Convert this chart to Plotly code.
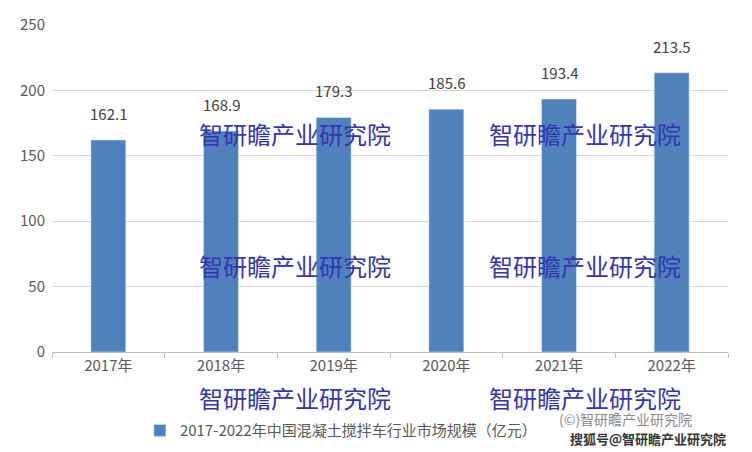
import plotly.graph_objects as go

years = ["2017年", "2018年", "2019年", "2020年", "2021年", "2022年"]
values = [162.1, 168.9, 179.3, 185.6, 193.4, 213.5]
series_name = "2017-2022年中国混凝土搅拌车行业市场规模（亿元）"
y_ticks = [0, 50, 100, 150, 200, 250]

font = "Noto Sans CJK SC"
OFF = 8  # page body margin
L, R, T, B = 44, 24, 17, 100
W, H = 744, 444
pw, ph = W - L - R, H - T - B

fig = go.Figure(go.Bar(x=years, y=values, name=series_name, marker_color="#4f81bd", width=0.31))
for x, v in zip(years, values):
    fig.add_annotation(x=x, y=v, text=f"{v:.1f}", showarrow=False, yanchor="bottom", yshift=14,
                       font=dict(size=15, color="#404040", family=font))

fig.update_layout(
    width=W, height=H, paper_bgcolor="white", plot_bgcolor="white",
    margin=dict(l=L, r=R, t=T, b=B, autoexpand=False),
    font=dict(family=font, color="#595959"),
    showlegend=True,
    legend=dict(orientation="h", x=0.13, xanchor="left", y=-0.19, yanchor="top",
                font=dict(size=15, color="#595959", family=font)),
    xaxis=dict(showline=True, linecolor="#bfbfbf", ticks="outside", tickcolor="#bfbfbf",
               ticklen=5, tickson="boundaries", tickfont=dict(size=15, color="#595959")),
    yaxis=dict(range=[0, 250], tickvals=y_ticks, gridcolor="#d9d9d9", zeroline=False,
               ticklabelstandoff=6, tickfont=dict(size=15, color="#595959")),
)

def px(x, y):
    return (x - OFF - L) / pw, (H - B - (y - OFF)) / ph

wm = "智研瞻产业研究院"
for (x, y) in [(295, 133), (585, 133), (295, 265), (585, 265), (295, 397), (585, 397)]:
    ax, ay = px(x, y)
    fig.add_annotation(text=wm, x=ax, y=ay, xref="paper", yref="paper",
                       xanchor="center", yanchor="middle", showarrow=False,
                       font=dict(size=24, color="#3434b0", family=font))
ax, ay = px(625, 419)
fig.add_annotation(text="(©)智研瞻产业研究院", x=ax, y=ay, xref="paper", yref="paper",
                   xanchor="center", yanchor="middle", showarrow=False,
                   font=dict(size=14, color="#8c8c8c", family=font))
ax, ay = px(648, 438)
fig.add_annotation(text="<b>搜狐号@智研瞻产业研究院</b>", x=ax, y=ay, xref="paper", yref="paper",
                   xanchor="center", yanchor="middle", showarrow=False,
                   font=dict(size=13, color="#333333", family=font))
fig.write_html("out.html")
